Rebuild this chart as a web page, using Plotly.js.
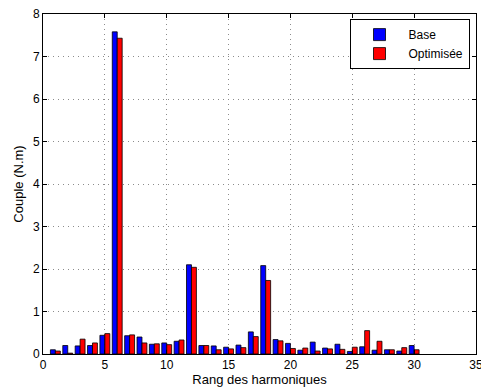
<!DOCTYPE html>
<html>
<head>
<meta charset="utf-8">
<script src="https://cdn.plot.ly/plotly-3.0.1.min.js"></script>
<style>html,body{margin:0;padding:0;background:#fff}#chart{width:481px;height:392px}</style>
</head>
<body>
<div id="chart"></div>
<script>
const harmonics = [1,2,3,4,5,6,7,8,9,10,11,12,13,14,15,16,17,18,19,20,21,22,23,24,25,26,27,28,29,30];
const baseValues = [0.10,0.20,0.19,0.20,0.44,7.58,0.43,0.40,0.23,0.26,0.30,2.10,0.20,0.19,0.16,0.21,0.52,2.08,0.34,0.25,0.09,0.28,0.14,0.23,0.06,0.17,0.09,0.10,0.07,0.20];
const optValues  = [0.07,0.02,0.35,0.26,0.48,7.43,0.45,0.26,0.24,0.22,0.33,2.04,0.20,0.10,0.12,0.15,0.41,1.73,0.31,0.13,0.14,0.07,0.12,0.11,0.16,0.55,0.30,0.10,0.15,0.10];
const seriesNames = ['Base','Optimisée'];
const xTicks = [0,5,10,15,20,25,30,35];
const yTicks = [0,1,2,3,4,5,6,7,8];

const edge = {color:'#000', width:0.8};
const traces = [
  {type:'bar', x:harmonics, y:baseValues, name:seriesNames[0], marker:{color:'#0000ff', line:edge}},
  {type:'bar', x:harmonics, y:optValues, name:seriesNames[1], marker:{color:'#ff0000', line:edge}}
];
const axisCommon = {
  showline:true, mirror:'ticks', linecolor:'#000', linewidth:1,
  ticks:'inside', ticklen:4, tickcolor:'#000',
  showgrid:true, gridcolor:'#8c8c8c', griddash:'1px,4px', gridwidth:1,
  zeroline:false, tickfont:{size:12, color:'#000'}
};
const layout = {
  width:481, height:392,
  margin:{l:43, r:5, t:14, b:38},
  paper_bgcolor:'#fff', plot_bgcolor:'#fff',
  font:{family:'Liberation Sans, Arial, sans-serif', size:12, color:'#000'},
  barmode:'group', bargap:0.2, bargroupgap:0,
  showlegend:true,
  legend:{x:0.985, y:0.985, xanchor:'right', yanchor:'top', bgcolor:'#fff', bordercolor:'#000', borderwidth:1, font:{size:12}, tracegroupgap:0, itemwidth:48},
  xaxis:Object.assign({}, axisCommon, {range:[0,35], tickmode:'array', tickvals:xTicks, ticklabeloverflow:'allow', title:{text:'Rang des harmoniques', font:{size:13}, standoff:0}}),
  yaxis:Object.assign({}, axisCommon, {range:[0,8], tickmode:'array', tickvals:yTicks, title:{text:'Couple (N.m)', font:{size:13}, standoff:6}})
};
Plotly.newPlot('chart', traces, layout, {displayModeBar:false, staticPlot:true});
</script>
</body>
</html>
